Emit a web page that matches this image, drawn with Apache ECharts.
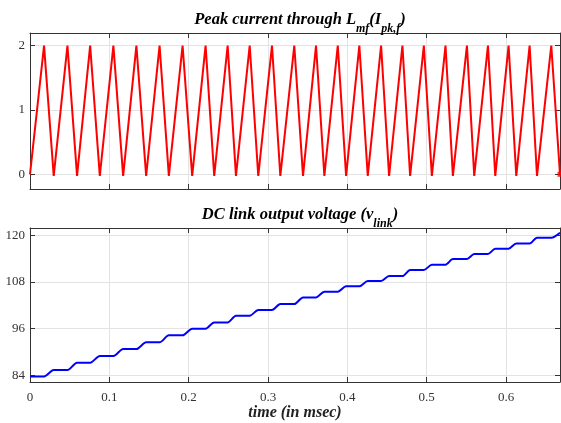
<!DOCTYPE html>
<html><head><meta charset="utf-8">
<script src="https://cdn.jsdelivr.net/npm/echarts@6/dist/echarts.min.js"></script>
<style>html,body{margin:0;padding:0;background:#fff}#c{width:561px;height:423px}</style>
</head><body><div id="c"></div>
<script>
// ---- data ----
const peakTimes = [0.0177, 0.0472, 0.0758, 0.1051, 0.1341, 0.1633, 0.1923, 0.2213, 0.2491, 0.2769, 0.3050, 0.3331,
                   0.3605, 0.3879, 0.4151, 0.4425, 0.4694, 0.4964, 0.5237, 0.5507, 0.5772, 0.6032, 0.6297, 0.6570];
const valleyTimes = [0.0299, 0.0593, 0.0880, 0.1174, 0.1464, 0.1750, 0.2044, 0.2322, 0.2596, 0.2877, 0.3155, 0.3441,
                     0.3710, 0.3984, 0.4257, 0.4526, 0.4791, 0.5065, 0.5330, 0.5599, 0.5864, 0.6129, 0.6390, 0.6680];
const peakCurrent = [2.0, 2.0, 2.0, 2.0, 2.0, 2.0, 2.0, 2.0, 2.0, 2.0, 2.0, 2.0,
                     2.0, 2.0, 2.0, 2.0, 2.0, 2.0, 2.0, 2.0, 2.0, 2.0, 2.0, 2.0];
const valleyCurrent = [-0.025, -0.025, -0.025, -0.025, -0.025, -0.025, -0.025, -0.025, -0.025, -0.025, -0.025, -0.025,
                       -0.025, -0.025, -0.025, -0.025, -0.025, -0.025, -0.025, -0.025, -0.025, -0.025, -0.025, 0.0];
const startCurrent = 0.0;
const voltageLevels = [83.74, 85.37, 87.26, 88.97, 90.77, 92.49, 94.29, 96.0, 97.63, 99.34, 100.8, 102.34, 104.06,
                       105.5, 106.9, 108.26, 109.54, 111.09, 112.46, 113.91, 115.2, 116.57, 117.94, 119.4, 120.69];
const timeTickLabels = [0, 0.1, 0.2, 0.3, 0.4, 0.5, 0.6];
const currentTickLabels = [0, 1, 2];
const voltageTickLabels = [84, 96, 108, 120];

// ---- build series data ----
const currentData = [[0, startCurrent]];
const voltageData = [[0, voltageLevels[0]]];
for (let i = 0; i < peakTimes.length; i++) {
  currentData.push([peakTimes[i], peakCurrent[i]]);
  currentData.push([valleyTimes[i], valleyCurrent[i]]);
  voltageData.push([peakTimes[i], voltageLevels[i]]);
  voltageData.push([valleyTimes[i], voltageLevels[i + 1]]);
}
const lastPoint = currentData[currentData.length - 1];

const X_MAX = 0.668;
const FONT = 'Liberation Serif';
const FRAME = '#333333';
const GRIDC = '#e3e3e3';
const LABEL = { fontFamily: FONT, fontSize: 13, color: '#333333' };
const titleRich = {
  b: { fontFamily: FONT, fontWeight: 'bold', fontStyle: 'italic', fontSize: 16.5, color: '#000', lineHeight: 20, verticalAlign: 'top' },
  s: { fontFamily: FONT, fontWeight: 'bold', fontStyle: 'italic', fontSize: 12, color: '#000', lineHeight: 14, padding: [12, 0, 0, 0], verticalAlign: 'top' }
};

function xAx(gridIndex, position, labels) {
  return {
    type: 'value', gridIndex, position, min: 0, max: X_MAX,
    axisLine: { show: true, onZero: false, lineStyle: { color: FRAME, width: 1 } },
    axisTick: { show: true, inside: true, length: 5, customValues: timeTickLabels, lineStyle: { color: FRAME } },
    axisLabel: { show: labels, customValues: timeTickLabels, margin: 9, ...LABEL,
                 formatter: v => String(Math.round(v * 10) / 10) },
    splitLine: { show: position === 'bottom', lineStyle: { color: GRIDC, width: 1 } },
    name: labels ? 'time (in msec)' : '',
    nameLocation: 'middle', nameGap: 23,
    nameTextStyle: { fontFamily: FONT, fontWeight: 'bold', fontStyle: 'italic', fontSize: 16, color: '#222' }
  };
}
function yAx(gridIndex, position, min, max, ticks, labels) {
  return {
    type: 'value', gridIndex, position, min, max,
    axisLine: { show: true, onZero: false, lineStyle: { color: FRAME, width: 1 } },
    axisTick: { show: true, inside: true, length: 5, customValues: ticks, lineStyle: { color: FRAME } },
    axisLabel: { show: labels, customValues: ticks, margin: 5, ...LABEL },
    splitLine: { show: position === 'left', lineStyle: { color: GRIDC, width: 1 } }
  };
}

const chart = echarts.init(document.getElementById('c'), null, { renderer: 'canvas' });
chart.setOption({
  animation: false,
  backgroundColor: '#ffffff',
  title: [
    { text: '{b|Peak current through L}{s|mf}{b|(I}{s|pk,f}{b|)}', left: 295, top: 6, textAlign: 'center',
      textStyle: { rich: titleRich } },
    { text: '{b|DC link output voltage (v}{s|link}{b|)}', left: 295, top: 201, textAlign: 'center',
      textStyle: { rich: titleRich } }
  ],
  grid: [
    { left: 30, top: 33, width: 530, height: 156 },
    { left: 30, top: 228, width: 530, height: 154 }
  ],
  xAxis: [
    xAx(0, 'bottom', false), xAx(0, 'top', false),
    xAx(1, 'bottom', true), xAx(1, 'top', false)
  ],
  yAxis: [
    yAx(0, 'left', -0.228, 2.195, currentTickLabels, true), yAx(0, 'right', -0.228, 2.195, currentTickLabels, false),
    yAx(1, 'left', 82.3, 121.9, voltageTickLabels, true), yAx(1, 'right', 82.3, 121.9, voltageTickLabels, false)
  ],
  series: [
    { type: 'line', xAxisIndex: 0, yAxisIndex: 0, data: currentData, symbol: 'none',
      lineStyle: { color: '#ff0000', width: 2 } },
    { type: 'scatter', xAxisIndex: 0, yAxisIndex: 0, data: [lastPoint], symbol: 'rect', symbolSize: 5,
      itemStyle: { color: '#ff0000' }, clip: false },
    { type: 'line', xAxisIndex: 2, yAxisIndex: 2, data: voltageData, symbol: 'none', smooth: 0.3, smoothMonotone: 'x',
      lineStyle: { color: '#0000ff', width: 2 } }
  ]
});
</script>
</body></html>
